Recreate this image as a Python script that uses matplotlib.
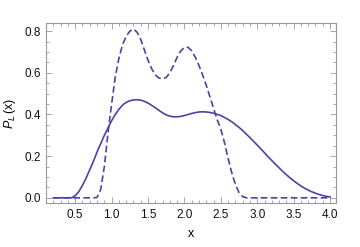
import numpy as np
import matplotlib
matplotlib.use('Agg')
from matplotlib import pyplot as plt
from matplotlib.ticker import MultipleLocator

# values, x step 0.05 from 0.2 to 4.0
x = np.round(np.arange(0.2, 4.0001, 0.05), 2)

solid = [0.0, 0.0, 0.0, 0.0, 0.0, 0.0, 0.01, 0.03, 0.06, 0.095,
         0.135, 0.175, 0.22, 0.26, 0.30, 0.335, 0.37, 0.40, 0.425, 0.445,
         0.458, 0.466, 0.47, 0.471, 0.469, 0.463, 0.455, 0.444, 0.432, 0.42,
         0.408, 0.398, 0.392, 0.389, 0.389, 0.391, 0.395, 0.40, 0.405, 0.409,
         0.412, 0.413, 0.412, 0.41, 0.406, 0.401, 0.395, 0.386, 0.376, 0.365,
         0.352, 0.338, 0.323, 0.306, 0.289, 0.271, 0.253, 0.235, 0.216, 0.197,
         0.179, 0.161, 0.144, 0.127, 0.111, 0.096, 0.082, 0.069, 0.057, 0.046,
         0.037, 0.029, 0.022, 0.016, 0.011, 0.007, 0.004]

dashed = [0.0, 0.0, 0.0, 0.0, 0.0, 0.0, 0.0, 0.0, 0.0, 0.0,
          0.0, 0.0, 0.002, 0.04, 0.15, 0.31, 0.45, 0.58, 0.67, 0.735,
          0.775, 0.80, 0.81, 0.795, 0.76, 0.71, 0.66, 0.62, 0.59, 0.575,
          0.572, 0.578, 0.60, 0.635, 0.675, 0.705, 0.722, 0.723, 0.705, 0.675,
          0.635, 0.59, 0.54, 0.485, 0.43, 0.375, 0.33, 0.265, 0.19, 0.12,
          0.065, 0.025, 0.006, 0.0, 0.0, 0.0, 0.0, 0.0, 0.0, 0.0,
          0.0, 0.0, 0.0, 0.0, 0.0, 0.0, 0.0, 0.0, 0.0, 0.0,
          0.0, 0.0, 0.0, 0.0, 0.0, 0.0, 0.0]

plt.rcParams['font.family'] = ['Liberation Sans', 'DejaVu Sans']
plt.rcParams['mathtext.fontset'] = 'custom'
plt.rcParams['mathtext.rm'] = 'Liberation Sans'
plt.rcParams['mathtext.it'] = 'Liberation Sans:italic'

col = '#4646a6'
frame = '#999999'

fig = plt.figure(figsize=(3.6, 2.47), dpi=100)
ax = fig.add_axes([0.128, 0.178, 0.805, 0.727])

ax.plot(x, solid, color=col, lw=1.2)
ax.plot(x, dashed, color=col, lw=1.2, ls=(0, (4, 2)))

ax.set_xlim(0.10, 4.08)
ax.set_ylim(-0.025, 0.837)
ax.xaxis.set_major_locator(MultipleLocator(0.5))
ax.xaxis.set_minor_locator(MultipleLocator(0.1))
ax.yaxis.set_major_locator(MultipleLocator(0.2))
ax.yaxis.set_minor_locator(MultipleLocator(0.05))
ax.xaxis.set_major_formatter(plt.FormatStrFormatter('%.1f'))
ax.yaxis.set_major_formatter(plt.FormatStrFormatter('%.1f'))

for s in ax.spines.values():
    s.set_color(frame)
    s.set_linewidth(0.8)
ax.tick_params(which='both', direction='in', top=True, right=True,
               color=frame, width=0.6, labelsize=8.5, labelcolor='#111111')
ax.tick_params(which='major', length=4, pad=4)
ax.tick_params(which='minor', length=2)

ax.set_xlabel('x', fontsize=9, labelpad=5)
ax.set_ylabel(r'$P_L\,(\mathrm{x})$', fontsize=9, labelpad=4)

fig.savefig('out.png', dpi=100)
